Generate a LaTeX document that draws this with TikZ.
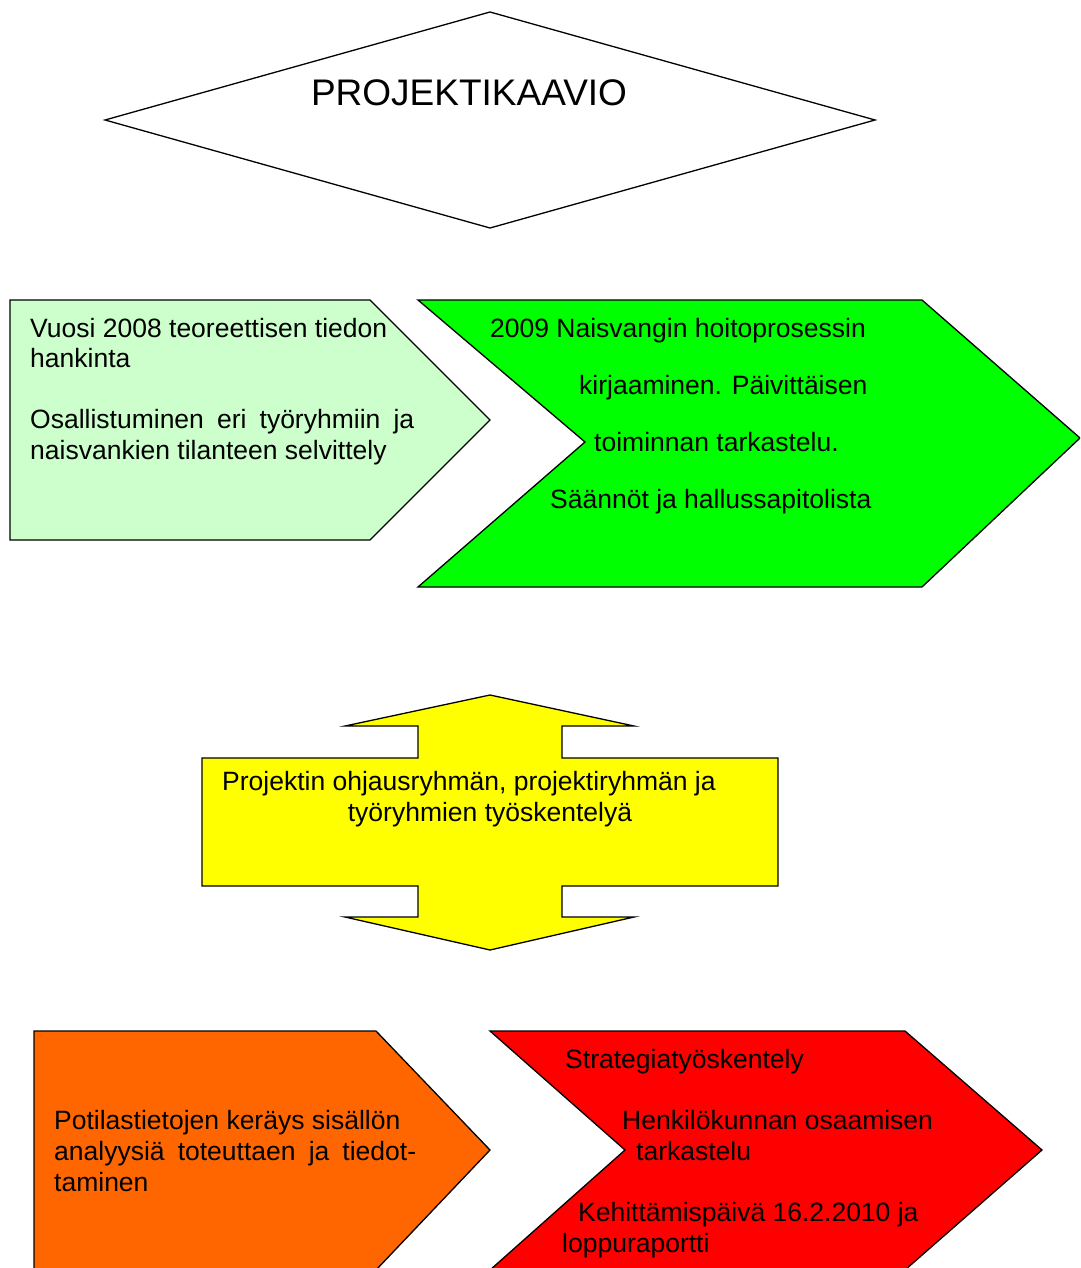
\documentclass[tikz,border=0pt]{standalone}
\usepackage{fontspec}
\setmainfont{Liberation Sans}
\definecolor{lightgr}{HTML}{CCFFCC}
\definecolor{brightgr}{HTML}{00FF00}
\definecolor{yel}{HTML}{FFFF00}
\definecolor{orng}{HTML}{FF6600}
\definecolor{rd}{HTML}{FF0000}
\begin{document}
\begin{tikzpicture}[x=1pt,y=-1pt,
  shapeline/.style={draw=black, line width=1.3pt, line join=miter},
  txt/.style={anchor=base west, inner sep=0pt, font=\fontsize{26.5}{30}\selectfont},
  ctxt/.style={anchor=base, inner sep=0pt, font=\fontsize{26.5}{30}\selectfont}]
\useasboundingbox (0,0) rectangle (1080,1268);
\clip (0,0) rectangle (1080,1268);
% title diamond
\draw[shapeline, fill=white] (105,120) -- (490,12) -- (875,120) -- (490,228) -- cycle;
\node[anchor=base, inner sep=0pt, font=\fontsize{37}{40}\selectfont] (title) at (469,106) {PROJEKTIKAAVIO};
% light green pentagon
\draw[shapeline, fill=lightgr] (10,300) -- (370,300) -- (490,420) -- (370,540) -- (10,540) -- cycle;
\node[txt] (a1) at (30,337) {Vuosi 2008 teoreettisen tiedon};
\node[txt] (a2) at (30,367) {hankinta};
\node[txt] (a3) at (30,428) {\makebox[384pt][s]{Osallistuminen eri työryhmiin ja}};
\node[txt] (a4) at (30,459) {naisvankien tilanteen selvittely};
% green chevron
\draw[shapeline, fill=brightgr] (418,300) -- (922,300) -- (1080,438) -- (922,587) -- (418,587) -- (585,442) -- cycle;
\node[txt] (b1) at (490,337) {2009 Naisvangin hoitoprosessin};
\node[txt] (b2) at (579,394) {kirjaaminen. Päivittäisen};
\node[txt] (b3) at (594,451) {toiminnan tarkastelu.};
\node[txt] (b4) at (550,508) {Säännöt ja hallussapitolista};
% yellow double arrow
\draw[shapeline, fill=yel] (490,695) -- (634,726) -- (562,726) -- (562,758) -- (778,758) -- (778,886) -- (562,886) -- (562,917) -- (634,917) -- (490,950) -- (345,917) -- (418,917) -- (418,886) -- (202,886) -- (202,758) -- (418,758) -- (418,726) -- (345,726) -- cycle;
\node[txt] (c1) at (222,790) {Projektin ohjausryhmän, projektiryhmän ja};
\node[ctxt] (c2) at (490,821) {työryhmien työskentelyä};
% orange pentagon
\draw[shapeline, fill=orng] (34,1031) -- (376,1031) -- (490,1150) -- (376,1270) -- (34,1270) -- cycle;
\node[txt] (d1) at (54,1129) {Potilastietojen keräys sisällön};
\node[txt] (d2) at (54,1160) {\makebox[362pt][s]{analyysiä toteuttaen ja tiedot-}};
\node[txt] (d3) at (54,1191) {taminen};
% red chevron
\draw[shapeline, fill=rd] (490,1031) -- (905,1031) -- (1042,1150) -- (905,1270) -- (490,1270) -- (625,1150) -- cycle;
\node[txt] (e1) at (565,1068) {Strategiatyöskentely};
\node[txt] (e2) at (622,1129) {Henkilökunnan osaamisen};
\node[txt] (e3) at (636,1160) {tarkastelu};
\node[txt] (e4) at (578,1221) {Kehittämispäivä 16.2.2010 ja};
\node[txt] (e5) at (562,1252) {loppuraportti};
\end{tikzpicture}
\end{document}
